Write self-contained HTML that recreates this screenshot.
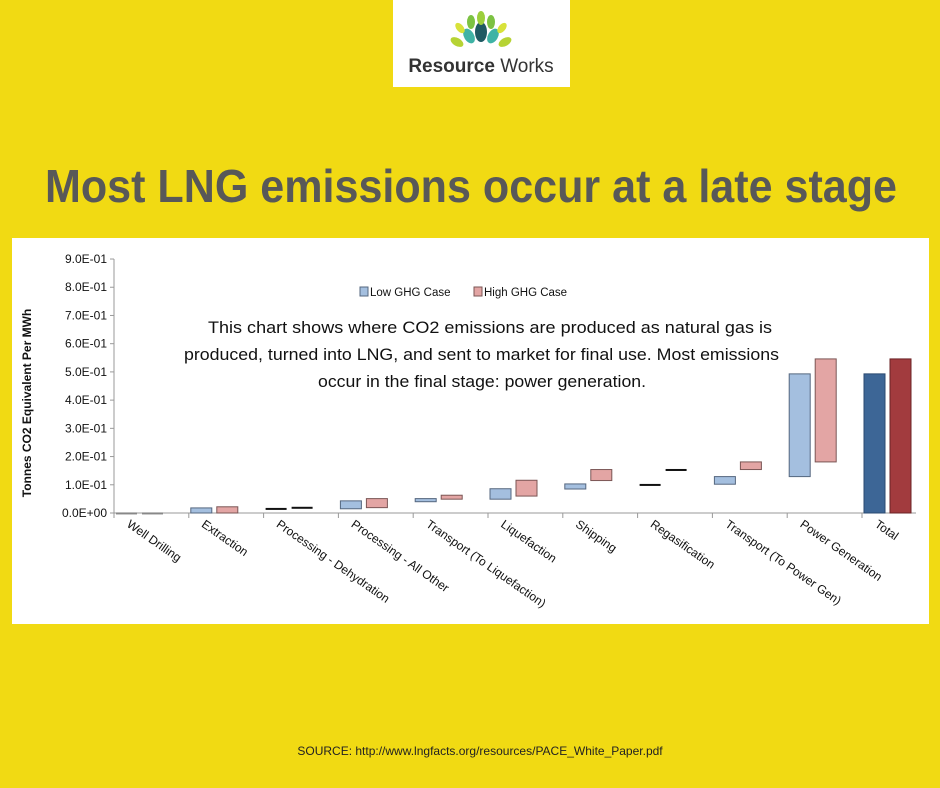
<!DOCTYPE html>
<html><head><meta charset="utf-8"><style>
html,body{margin:0;padding:0;}
body{width:940px;height:788px;background:#f1da13;position:relative;overflow:hidden;font-family:"Liberation Sans",sans-serif;}
</style></head><body>
<div style="position:absolute;left:393px;top:0;width:177px;height:87px;background:#fff;">
<svg width="177" height="87">
 <g transform="translate(88,38)">
  <ellipse cx="0" cy="-6" rx="6" ry="10" fill="#1f5a63"/>
  <ellipse cx="-12" cy="-2" rx="5" ry="8" fill="#3fb3a5" transform="rotate(-30 -12 -2)"/>
  <ellipse cx="12" cy="-2" rx="5" ry="8" fill="#3fb3a5" transform="rotate(30 12 -2)"/>
  <ellipse cx="-10" cy="-16" rx="4" ry="7" fill="#7cc242"/>
  <ellipse cx="10" cy="-16" rx="4" ry="7" fill="#7cc242"/>
  <ellipse cx="0" cy="-20" rx="4" ry="7" fill="#9ccf3c"/>
  <ellipse cx="-24" cy="4" rx="4" ry="7" fill="#b6d334" transform="rotate(-60 -24 4)"/>
  <ellipse cx="24" cy="4" rx="4" ry="7" fill="#b6d334" transform="rotate(60 24 4)"/>
  <ellipse cx="-21" cy="-10" rx="3.5" ry="6" fill="#d8e23a" transform="rotate(-40 -21 -10)"/>
  <ellipse cx="21" cy="-10" rx="3.5" ry="6" fill="#d8e23a" transform="rotate(40 21 -10)"/>
 </g>
 <text x="88" y="72" text-anchor="middle" font-size="19" fill="#333" font-family="Liberation Sans, sans-serif"><tspan font-weight="bold">Resource</tspan> Works</text>
</svg></div>
<svg width="940" height="230" style="position:absolute;left:0;top:0;">
<text x="45" y="202" font-size="46" font-weight="bold" fill="#585858" textLength="852" lengthAdjust="spacingAndGlyphs" font-family="Liberation Sans, sans-serif">Most LNG emissions occur at a late stage</text>
</svg>
<div style="position:absolute;left:12px;top:238px;width:917px;height:386px;background:#fff;"></div>
<svg id="chart" width="940" height="788" style="position:absolute;left:0;top:0;"></svg>
<div style="position:absolute;left:0;top:744px;width:960px;text-align:center;font-size:12px;color:#222;">SOURCE: http://www.lngfacts.org/resources/PACE_White_Paper.pdf</div>
<script>
const categories=["Well Drilling","Extraction","Processing - Dehydration","Processing - All Other","Transport (To Liquefaction)","Liquefaction","Shipping","Regasification","Transport (To Power Gen)","Power Generation","Total"];
const lowStart=[0,0,0.016,0.015,0.040,0.049,0.085,0.101,0.102,0.129,0];
const lowEnd=[0.002,0.018,0.018,0.043,0.051,0.086,0.103,0.103,0.129,0.493,0.493];
const highStart=[0,0,0.020,0.019,0.049,0.060,0.115,0.154,0.154,0.181,0];
const highEnd=[0.002,0.022,0.022,0.051,0.063,0.116,0.154,0.156,0.181,0.546,0.546];
const yTicks=["0.0E+00","1.0E-01","2.0E-01","3.0E-01","4.0E-01","5.0E-01","6.0E-01","7.0E-01","8.0E-01","9.0E-01"];
const ns="http://www.w3.org/2000/svg";
const svg=document.getElementById('chart');
const y0=513,pxPer=282.2,xL=114,step=74.8;
function yS(v){return y0-v*pxPer;}
function xB(i){return xL+i*step;}
function mk(t,a){const e=document.createElementNS(ns,t);for(const k in a)e.setAttribute(k,a[k]);svg.appendChild(e);return e;}
let ax=mk('line',{x1:xL,y1:yS(0.9),x2:xL,y2:y0,stroke:'#999'});


let xa=mk('line',{x1:xL,y1:y0,x2:916,y2:y0,stroke:'#999'});


yTicks.forEach((t,i)=>{const v=i/10;
 mk('line',{x1:xL-4,y1:yS(v),x2:xL,y2:yS(v),stroke:'#999'});
 const tx=mk('text',{x:xL-7,y:yS(v)+4,'text-anchor':'end','font-size':12,fill:'#111'});tx.textContent=t;
 
 
});
for(let i=0;i<=categories.length;i++){const x=xB(i);if(x<=917)mk('line',{x1:x,y1:y0,x2:x,y2:y0+5,stroke:'#999'});}
categories.forEach((c,i)=>{
 const b=xB(i),tot=i===categories.length-1;
 function bar(s,e,x,fill,stroke,name){
  let top=yS(e),h=Math.max(yS(s)-top,1.5);
  const thin=(e-s)<0.004;
  const r=mk('rect',{x:x,y:top,width:21,height:h,fill:thin?(i===0?'#888':'#111'):fill,stroke:thin?'none':stroke,'stroke-width':1});
  if(thin){r.setAttribute('height',2);}
  
  
 }
 bar(lowStart[i],lowEnd[i],b+2,tot?'#3d6696':'#a4bfdf',tot?'#2a4a70':'#55677f','bar-low-'+i);
 bar(highStart[i],highEnd[i],b+28,tot?'#a23b3e':'#e3a5a4',tot?'#6b2325':'#7b5655','bar-high-'+i);
 const cx=b+12,cy=526;
 const t=mk('text',{x:cx,y:cy,'font-size':12,fill:'#111',transform:`rotate(35 ${cx} ${cy})`});t.textContent=c;
 
 
});
const yt=mk('text',{x:31,y:403,'text-anchor':'middle','font-size':12,'font-weight':'bold',fill:'#111',transform:'rotate(-90 31 403)'});yt.textContent='Tonnes CO2 Equivalent Per MWh';


const l1=mk('rect',{x:360,y:287,width:8,height:9,fill:'#a4bfdf',stroke:'#55677f'});


const lt1=mk('text',{x:370,y:296,'font-size':11.5,fill:'#111'});lt1.textContent='Low GHG Case';


const l2=mk('rect',{x:474,y:287,width:8,height:9,fill:'#e3a5a4',stroke:'#7b5655'});


const lt2=mk('text',{x:484,y:296,'font-size':11.5,fill:'#111'});lt2.textContent='High GHG Case';


const lines=[["This chart shows where CO2 emissions are produced as natural gas is",208,772],["produced, turned into LNG, and sent to market for final use. Most emissions",184,779],["occur in the final stage: power generation.",318,646]];
lines.forEach((l,i)=>{const t=mk('text',{x:l[1],y:333+i*27,'font-size':17,fill:'#111',textLength:l[2]-l[1],lengthAdjust:'spacingAndGlyphs'});t.textContent=l[0];
 
 });
</script>
</body></html>
